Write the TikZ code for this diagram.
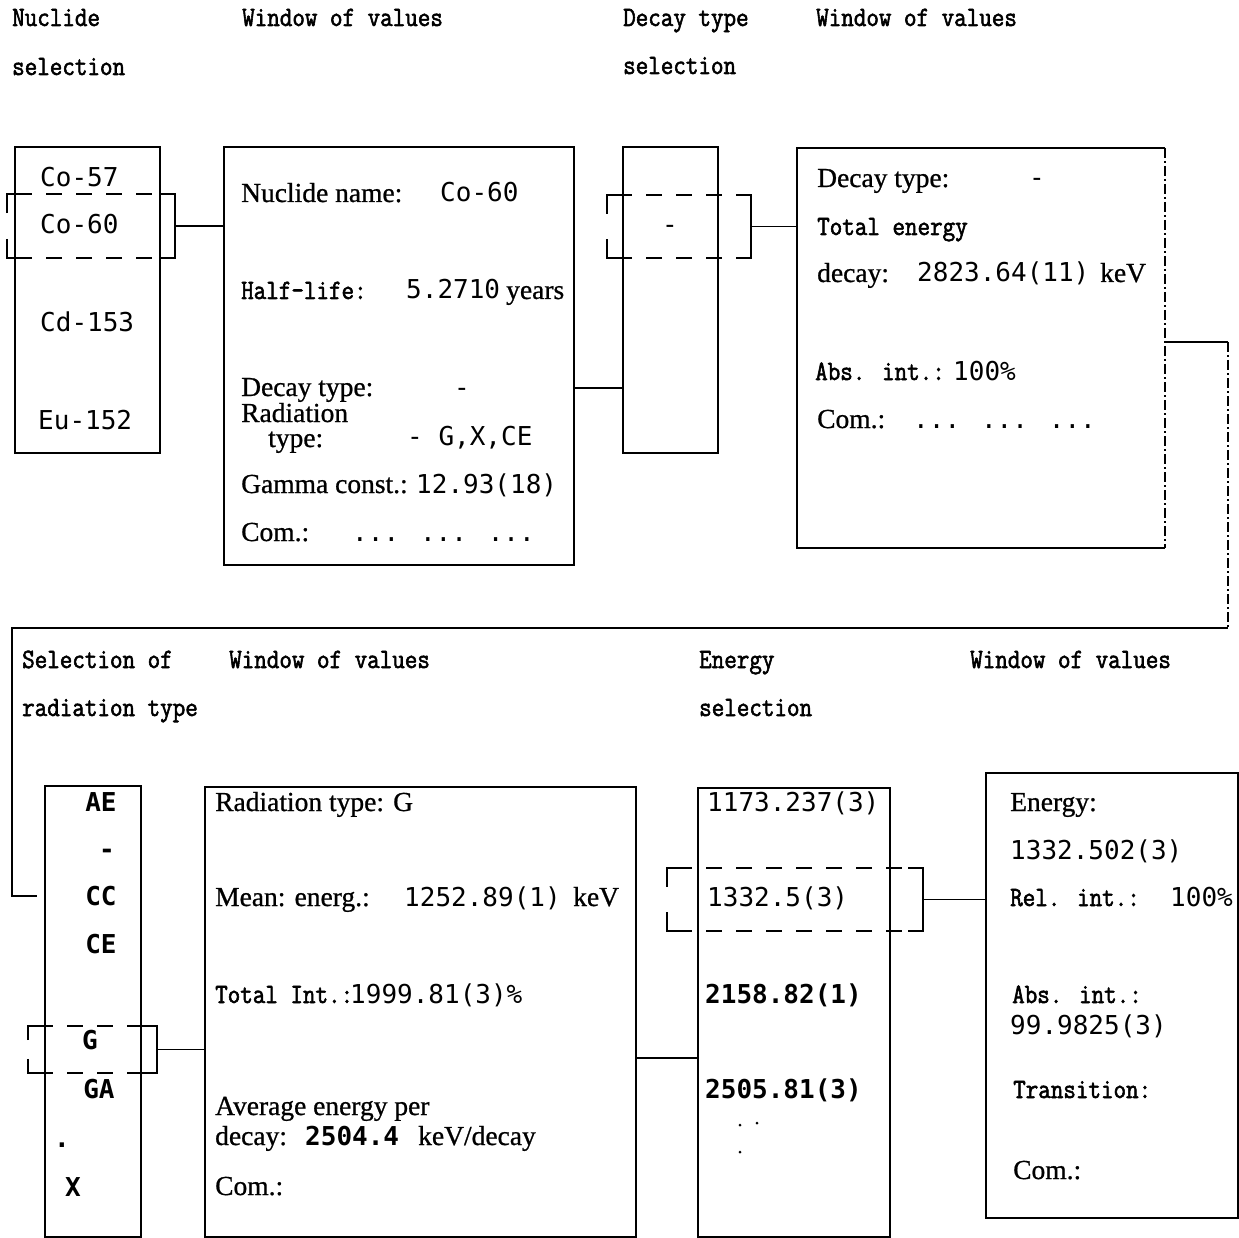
\documentclass[tikz,border=0pt]{standalone}
\usepackage{fontspec}
\newfontfamily\valfont{DejaVu Sans Mono}
\newfontfamily\labfont{Liberation Serif}[FakeBold=0.8]
\newfontfamily\hdrfont{Latin Modern Mono}[FakeStretch=0.87,FakeBold=2]
\tikzset{
  every picture/.style={x=1pt,y=-1pt},
  boxed/.style={draw, line width=1.5pt, rectangle, anchor=north west, inner sep=0, outer sep=0},
  ln/.style={line width=1.5pt},
  sel/.style={line width=1.5pt, dash pattern=on 16pt off 14pt},
  faint/.style={line width=1.2pt, dash pattern=on 10pt off 3pt on 2pt off 3pt},
  lab/.style={anchor=base west, inner sep=0, font=\fontsize{27.5}{30}\selectfont\labfont},
  hdr/.style={anchor=base west, inner sep=0, font=\fontsize{28}{30}\selectfont\hdrfont},
  val/.style={anchor=base west, inner sep=0, font=\fontsize{26}{30}\selectfont\valfont},
  valb/.style={anchor=base west, inner sep=0, font=\fontsize{26}{30}\selectfont\valfont\bfseries},
  valc/.style={val, anchor=base},
  valbc/.style={valb, anchor=base},
}
\newcommand\selbrk[5]{%
  \draw[sel] (#2+9,#4) -- (#3-15,#4);
  \draw[sel] (#2+9,#5) -- (#3-15,#5);
  \draw[ln] (#2,{#4+0.3*(#5-#4)}) -- (#2,#4) -- (#2+9,#4);
  \draw[ln] (#2,{#5-0.3*(#5-#4)}) -- (#2,#5) -- (#2+9,#5);
  \draw[ln] (#3-15,#4) -- (#3,#4) -- (#3,#5) -- (#3-15,#5);
  \coordinate (#1) at (#3,{(#4+#5)/2});
}
\begin{document}
\begin{tikzpicture}
\useasboundingbox (0,0) rectangle (1239,1238);

% ---------- headers ----------
\node[hdr] (h1) at (12,26) {Nuclide};
\node[hdr] (h1b) at (12,75) {selection};
\node[hdr] (h2) at (242,26) {Window of values};
\node[hdr] (h3) at (623,26) {Decay type};
\node[hdr] (h3b) at (623,74) {selection};
\node[hdr] (h4) at (816,26) {Window of values};
\node[hdr] (h5) at (22,668) {Selection of};
\node[hdr] (h5b) at (22,716) {radiation type};
\node[hdr] (h6) at (229,668) {Window of values};
\node[hdr] (h7) at (699,668) {Energy};
\node[hdr] (h7b) at (699,716) {selection};
\node[hdr] (h8) at (970,668) {Window of values};

% ---------- boxes ----------
\node[boxed, minimum width=145pt, minimum height=306pt] (b1) at (15,147) {};
\node[boxed, minimum width=350pt, minimum height=418pt] (b2) at (224,147) {};
\node[boxed, minimum width=95pt, minimum height=306pt] (b3) at (623,147) {};
\node[boxed, draw=none, minimum width=368pt, minimum height=400pt] (b4) at (797,148) {};
\draw[ln] (b4.north east) -- (b4.north west) -- (b4.south west) -- (b4.south east);
\draw[faint] (b4.north east) -- (b4.south east);
\node[boxed, minimum width=96pt, minimum height=451pt] (b5) at (45,786) {};
\node[boxed, minimum width=431pt, minimum height=450pt] (b6) at (205,787) {};
\node[boxed, minimum width=192pt, minimum height=449pt] (b7) at (698,788) {};
\node[boxed, minimum width=252pt, minimum height=445pt] (b8) at (986,773) {};

% ---------- selections ----------
\selbrk{s1}{7}{175}{194}{258}
\selbrk{s3}{607}{751}{195}{258}
\selbrk{s5}{28}{157}{1026}{1073}
\selbrk{s7}{667}{923}{868}{931}

% ---------- connectors ----------
\draw[ln] (s1) -- (s1 -| b2.west);
\coordinate (c2) at (574,388);
\draw[ln] (c2) -- (c2 -| b3.west);
\draw[ln] (s3) -- (s3 -| b4.west);
\coordinate (c4a) at (1165,342);
\coordinate (c4b) at (1228,342);
\coordinate (c4c) at (1228,628);
\coordinate (c4d) at (12,628);
\coordinate (c4e) at (12,896);
\coordinate (c4f) at (37,896);
\draw[ln] (c4a) -- (c4b);
\draw[faint] (c4b) -- (c4c);
\draw[ln] (c4c) -- (c4d) -- (c4e) -- (c4f);
\draw[ln] (s5) -- (s5 -| b6.west);
\coordinate (c6) at (636,1058);
\draw[ln] (c6) -- (c6 -| b7.west);
\draw[ln] (s7) -- (s7 -| b8.west);

% ---------- box 1 ----------
\node[val] (n1) at (40,187) {Co-57};
\node[val] (n2) at (40,234) {Co-60};
\node[val] (n3) at (40,332) {Cd-153};
\node[val] (n4) at (38,429) {Eu-152};

% ---------- box 2 ----------
\node[lab] (a1) at (241,202) {Nuclide name:};
\node[val] (a1v) at (440,202) {Co-60};
\node[hdr] (a2) at (241,299) {Half-life:};
\node[val] (a2v) at (406,299) {5.2710};
\node[lab] (a2u) at (506,299) {years};
\node[lab] (a3) at (241,396) {Decay type:};
\node[valc] (a3v) at (462,396) {-};
\node[lab] (a4) at (241,422) {Radiation};
\node[lab] (a4b) at (268,447) {type:};
\node[val] (a4v) at (407,445) {- G,X,CE};
\node[lab] (a5) at (241,493) {Gamma const.:};
\node[val] (a5v) at (416,493) {12.93(18)};
\node[lab] (a6) at (241,541) {Com.:};
\node[val] (a6v) at (352,541) {... ... ...};

% ---------- box 3 ----------
\node[valc] (d1) at (670,234) {-};

% ---------- box 4 ----------
\node[lab] (e1) at (817,187) {Decay type:};
\node[valc] (e1v) at (1037,187) {-};
\node[hdr] (e2) at (817,235) {Total energy};
\node[lab] (e3) at (817,282) {decay:};
\node[val] (e3v) at (917,282) {2823.64(11)};
\node[lab] (e3u) at (1100,282) {keV};
\node[hdr] (e4) at (815,380) {Abs. int.:};
\node[val] (e4v) at (953,380) {100\%};
\node[lab] (e5) at (817,428) {Com.:};
\node[val] (e5v) at (913,428) {... ... ...};

% ---------- box 5 ----------
\node[valbc] (r1) at (101,811) {AE};
\node[valbc] (r2) at (107,858) {-};
\node[valbc] (r3) at (101,905) {CC};
\node[valbc] (r4) at (101,953) {CE};
\node[valbc] (r5) at (90,1049) {G};
\node[valbc] (r6) at (99,1098) {GA};
\node[valbc] (r7) at (62,1147) {.};
\node[valbc] (r8) at (73,1196) {X};

% ---------- box 6 ----------
\node[lab] (w1) at (215,811) {Radiation type: G};
\node[lab] (w2) at (215,906) {Mean: energ.:};
\node[val] (w2v) at (404,906) {1252.89(1)};
\node[lab] (w2u) at (573,906) {keV};
\node[hdr] (w3) at (215,1003) {Total Int.:};
\node[val] (w3v) at (350,1003) {1999.81(3)\%};
\node[lab] (w4) at (215,1115) {Average energy per};
\node[lab] (w5) at (215,1145) {decay:};
\node[valb] (w5v) at (305,1145) {2504.4};
\node[lab] (w5u) at (418,1145) {keV/decay};
\node[lab] (w6) at (215,1195) {Com.:};

% ---------- box 7 ----------
\node[val] (g1) at (707,811) {1173.237(3)};
\node[val] (g2) at (707,906) {1332.5(3)};
\node[valb] (g3) at (705,1003) {2158.82(1)};
\node[valb] (g4) at (705,1098) {2505.81(3)};
\fill (740,1125) circle (1.5);
\fill (757,1123) circle (1.5);
\fill (740,1152) circle (1.5);

% ---------- box 8 ----------
\node[lab] (k1) at (1010,811) {Energy:};
\node[val] (k2) at (1010,859) {1332.502(3)};
\node[hdr] (k3) at (1010,906) {Rel. int.:};
\node[val] (k3v) at (1170,906) {100\%};
\node[hdr] (k4) at (1012,1003) {Abs. int.:};
\node[val] (k5) at (1010,1034) {99.9825(3)};
\node[hdr] (k6) at (1013,1098) {Transition:};
\node[lab] (k7) at (1013,1179) {Com.:};
\end{tikzpicture}
\end{document}
